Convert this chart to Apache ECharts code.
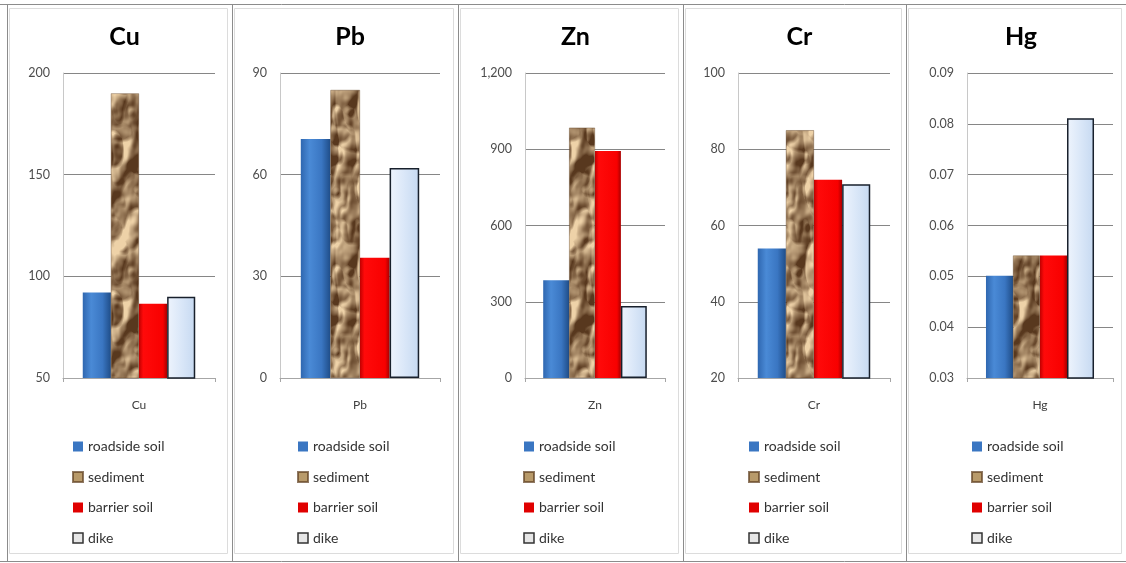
<!DOCTYPE html>
<html>
<head>
<meta charset="utf-8">
<title>Heavy metal concentrations</title>
<script src="https://cdn.jsdelivr.net/npm/echarts@6/dist/echarts.min.js"></script>
<style>
  html, body { margin: 0; padding: 0; background: #fff; }
  #chart { width: 1126px; height: 563px; }
</style>
</head>
<body>
<div id="chart"></div>
<script>
// Metals, one panel each
const elements = ['Cu', 'Pb', 'Zn', 'Cr', 'Hg'];
const seriesNames = ['roadside soil', 'sediment', 'barrier soil', 'dike'];

// Concentration per sample type, in panel order
const roadsideSoil = [92, 70.5, 385, 54, 0.0501];
const sediment     = [190, 85, 985, 85, 0.0541];
const barrierSoil  = [86.5, 35.5, 893, 72, 0.0541];
const dike         = [90, 62, 283, 70.8, 0.0811];

// Value axis range and step per panel
const yMin  = [50, 0, 0, 20, 0.03];
const yMax  = [200, 90, 1200, 100, 0.09];
const yStep = [50, 30, 300, 20, 0.01];

// Panel frames and plot rectangles (px)
const panelEdges = [7, 232, 458, 683, 906, 1126];
const plotLeft   = [63, 280, 525, 738, 967];
const plotWidth  = [152, 160, 140, 152, 146];
const plotTop = 73, plotHeight = 305;

// Crumpled-paper texture for the sediment bars (tileable value noise, embossed)
function crumpleTexture(w, h) {
  const c = document.createElement('canvas');
  c.width = w; c.height = h;
  const ctx = c.getContext('2d');
  const img = ctx.createImageData(w, h);
  const hash = (x, y) => { const s = Math.sin(x * 127.1 + y * 311.7) * 43758.5453; return s - Math.floor(s); };
  const m = (a, p) => ((a % p) + p) % p;
  function vnoise(x, y, px, py) {
    const xi = Math.floor(x), yi = Math.floor(y);
    const xf = x - xi, yf = y - yi;
    const u = xf * xf * (3 - 2 * xf), v = yf * yf * (3 - 2 * yf);
    const a = hash(m(xi, px), m(yi, py)), b = hash(m(xi + 1, px), m(yi, py));
    const cc = hash(m(xi, px), m(yi + 1, py)), d = hash(m(xi + 1, px), m(yi + 1, py));
    return (a * (1 - u) + b * u) * (1 - v) + (cc * (1 - u) + d * u) * v;
  }
  const cellsX = [2, 4, 8, 16];
  const cellsY = cellsX.map((k) => Math.max(1, Math.round(k * h / w / 1.5)));
  function fbm(x, y) {
    let n = 0, amp = 0.5;
    for (let o = 0; o < 4; o++) {
      n += amp * vnoise(x / w * cellsX[o], y / h * cellsY[o], cellsX[o], cellsY[o]);
      amp *= 0.5;
    }
    return n;
  }
  function ridge(x, y) {
    let r = 0, amp = 0.6;
    for (let o = 0; o < 3; o++) {
      const px = cellsX[o] + 1, py = cellsY[o] + 1;
      r += amp * (1 - Math.abs(2 * vnoise(x / w * px + 3.7, y / h * py + 1.3, px, py) - 1));
      amp *= 0.5;
    }
    return r;
  }
  const field = new Float32Array(w * h);
  for (let y = 0; y < h; y++) for (let x = 0; x < w; x++) field[y * w + x] = fbm(x, y) + 0.7 * ridge(x, y);
  const at = (x, y) => field[m(y, h) * w + m(x, w)];
  for (let y = 0; y < h; y++) {
    for (let x = 0; x < w; x++) {
      const base = at(x, y);
      const relief = (at(x - 1, y - 2) - at(x + 1, y + 2)) * 4.0;
      let shade = 0.5 + relief + (base - 0.95) * 0.45;
      shade = Math.max(0, Math.min(1, shade));
      const dark = [88, 56, 30], light = [238, 210, 168];
      const i = (y * w + x) * 4;
      img.data[i]     = dark[0] + (light[0] - dark[0]) * shade;
      img.data[i + 1] = dark[1] + (light[1] - dark[1]) * shade;
      img.data[i + 2] = dark[2] + (light[2] - dark[2]) * shade;
      img.data[i + 3] = 255;
    }
  }
  ctx.putImageData(img, 0, 0);
  return c;
}

const sedimentPattern = { image: crumpleTexture(64, 160), repeat: 'repeat' };

const hGrad = (stops) => ({
  type: 'linear', x: 0, y: 0, x2: 1, y2: 0,
  colorStops: stops.map(([offset, color]) => ({ offset, color }))
});

const barStyles = {
  'roadside soil': {
    color: hGrad([[0, '#2f67b0'], [0.3, '#4a8ad6'], [0.7, '#3a76c2'], [1, '#1f4d88']])
  },
  'sediment': {
    color: sedimentPattern, borderColor: 'rgba(96,64,34,0.7)', borderWidth: 0.6
  },
  'barrier soil': {
    color: hGrad([[0, '#c00000'], [0.15, '#ff0a0a'], [0.85, '#f80000'], [1, '#a80000']])
  },
  'dike': {
    color: hGrad([[0, '#eef4fd'], [0.5, '#dae7f8'], [1, '#c6d9f1']]),
    borderColor: '#18202c', borderWidth: 1.5
  }
};
const legendIconStyles = {
  'roadside soil': { color: '#3a76c2' },
  'sediment': { color: '#b89a6a' },
  'barrier soil': { color: '#e00000' },
  'dike': { color: '#e6e6e6', borderColor: '#333', borderWidth: 1.5 }
};

const valuesByName = {
  'roadside soil': roadsideSoil,
  'sediment': sediment,
  'barrier soil': barrierSoil,
  'dike': dike
};

const fontFamily = 'Lato, "Open Sans", sans-serif';

function tickText(p, v) {
  if (p === 4) return v.toFixed(2);
  if (p === 2) return Math.round(v).toLocaleString('en-US');
  return String(Math.round(v));
}

const grid = [], xAxis = [], yAxis = [], series = [], title = [], legend = [];

elements.forEach((el, p) => {
  const panelCenter = (panelEdges[p] + panelEdges[p + 1]) / 2;
  grid.push({ left: plotLeft[p], width: plotWidth[p], top: plotTop, height: plotHeight });
  title.push({
    text: el, left: panelCenter, top: 19, textAlign: 'center',
    textStyle: { fontFamily, fontSize: 25, fontWeight: 'bold', color: '#000' }
  });
  xAxis.push({
    type: 'category', gridIndex: p, data: [el],
    axisLine: { lineStyle: { color: '#a6a6a6' } },
    axisTick: { show: true, length: 4, lineStyle: { color: '#a6a6a6' } },
    axisLabel: { margin: 21, fontFamily, fontSize: 12, color: '#404040' }
  });
  yAxis.push({
    type: 'value', gridIndex: p, min: yMin[p], max: yMax[p], interval: yStep[p],
    axisLine: { show: true, lineStyle: { color: '#c8c8c8' } },
    axisTick: { show: false },
    splitLine: { lineStyle: { color: '#868686', width: 1 } },
    axisLabel: { margin: 13, fontFamily, fontSize: 12.5, color: '#4d4d4d',
      formatter: (v) => tickText(p, v) }
  });
  seriesNames.forEach((name) => {
    series.push({
      type: 'bar', name, xAxisIndex: p, yAxisIndex: p,
      data: [valuesByName[name][p]],
      barGap: '0%', barCategoryGap: '26%',
      itemStyle: barStyles[name],
      emphasis: { disabled: true },
      animation: false
    });
  });
  legend.push({
    orient: 'vertical', left: panelEdges[p] + 65, top: 438.5, padding: 0,
    itemWidth: 10, itemHeight: 10, itemGap: 14.5,
    icon: 'rect',
    textStyle: { fontFamily, fontSize: 14, color: '#333', lineHeight: 16 },
    data: seriesNames.map((name) => ({ name, itemStyle: legendIconStyles[name] })),
    selectedMode: false
  });
});

// Panel frames: outer box, separators, and a light inner border per panel
const graphics = [];
const frameLine = (x1, y1, x2, y2, color) => ({
  type: 'line', silent: true,
  shape: { x1, y1, x2, y2 },
  style: { stroke: color, lineWidth: 1 }
});
graphics.push(frameLine(0, 4.5, 1126, 4.5, '#8c8c8c'));
graphics.push(frameLine(0, 561.5, 1126, 561.5, '#8c8c8c'));
graphics.push(frameLine(7.5, 4, 7.5, 562, '#8c8c8c'));
[232, 458, 683, 906].forEach((x) => graphics.push(frameLine(x + 0.5, 4, x + 0.5, 562, '#8c8c8c')));
for (let p = 0; p < 5; p++) {
  graphics.push({
    type: 'rect', silent: true,
    shape: { x: panelEdges[p] + 2.5, y: 8.5, width: panelEdges[p + 1] - panelEdges[p] - 7, height: 545 },
    style: { fill: null, stroke: '#dcdcdc', lineWidth: 1 }
  });
}

const chart = echarts.init(document.getElementById('chart'), null, { renderer: 'canvas' });
chart.setOption({
  backgroundColor: '#ffffff',
  animation: false,
  title, grid, xAxis, yAxis, series, legend,
  graphic: graphics
});
</script>
</body>
</html>
